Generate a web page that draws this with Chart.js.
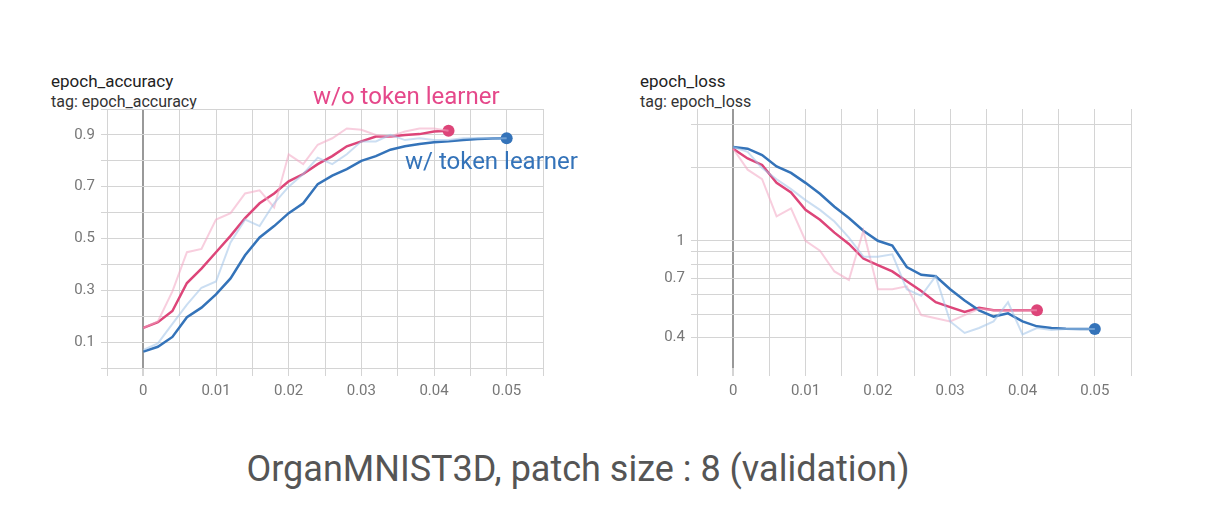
<!DOCTYPE html>
<html>
<head>
<meta charset="utf-8">
<script src="https://cdn.jsdelivr.net/npm/chart.js@4.4.0/dist/chart.umd.min.js"></script>
<style>
  body { margin: 0; width: 1212px; height: 520px; background: #fff; position: relative; font-family: "Roboto", "Noto Sans", sans-serif; overflow: hidden; }
  .box { position: absolute; }
  .title { position: absolute; font-size: 17px; color: #222; }
  .tag { position: absolute; font-size: 16px; color: #333; }
  .note { position: absolute; font-size: 24px; }
  #caption { position: absolute; left: 0; width: 1156px; top: 448px; text-align: center; font-size: 36px; color: #555; }
</style>
</head>
<body>
<div class="title" style="left:51px;top:71px">epoch_accuracy</div>
<div class="tag" style="left:51px;top:92px">tag: epoch_accuracy</div>
<div class="title" style="left:640px;top:71px">epoch_loss</div>
<div class="tag" style="left:640px;top:92px">tag: epoch_loss</div>
<div class="box" style="left:60px;top:94px;width:493px;height:314px"><canvas id="acc"></canvas></div>
<div class="box" style="left:650px;top:94px;width:491px;height:314px"><canvas id="loss"></canvas></div>
<div class="note" style="left:313px;top:82px;color:#e5488a">w/o token learner</div>
<div class="note" style="left:405px;top:147px;color:#3473b9">w/ token learner</div>
<div id="caption">OrganMNIST3D, patch size : 8 (validation)</div>
<script>
// x steps (epochs scaled), 0.002 apart
const stepsWith = [0,0.002,0.004,0.006,0.008,0.010,0.012,0.014,0.016,0.018,0.020,0.022,0.024,0.026,0.028,0.030,0.032,0.034,0.036,0.038,0.040,0.042,0.044,0.046,0.048,0.050];
const stepsWithout = stepsWith.slice(0, 22);

// accuracy
const accWith = [0.063,0.082,0.12,0.196,0.233,0.284,0.346,0.435,0.504,0.548,0.598,0.636,0.71,0.743,0.768,0.8,0.818,0.843,0.856,0.865,0.872,0.875,0.88,0.884,0.886,0.887];
const accWithRaw = [0.07,0.095,0.17,0.245,0.31,0.334,0.485,0.573,0.548,0.636,0.7,0.749,0.812,0.787,0.825,0.875,0.875,0.9,0.88,0.887,0.88,0.88,0.887,0.888,0.886,0.887];
const accWithout = [0.155,0.177,0.22,0.328,0.384,0.447,0.51,0.579,0.636,0.674,0.721,0.749,0.787,0.818,0.856,0.875,0.894,0.894,0.9,0.903,0.913,0.916];
const accWithoutRaw = [0.155,0.18,0.296,0.447,0.46,0.573,0.598,0.674,0.686,0.62,0.825,0.787,0.862,0.887,0.925,0.92,0.9,0.894,0.913,0.925,0.925,0.916];

// loss
const lossWith = [2.43,2.39,2.25,2.02,1.9,1.73,1.56,1.38,1.24,1.1,1.0,0.955,0.78,0.725,0.715,0.632,0.568,0.518,0.488,0.503,0.466,0.445,0.438,0.435,0.434,0.434];
const lossWithRaw = [2.43,2.32,1.99,1.79,1.63,1.47,1.34,1.2,1.03,0.86,0.86,0.88,0.632,0.594,0.715,0.466,0.418,0.438,0.466,0.559,0.412,0.438,0.43,0.434,0.434,0.434];
const lossWithout = [2.39,2.18,2.05,1.73,1.58,1.34,1.22,1.08,0.97,0.845,0.795,0.748,0.682,0.622,0.559,0.534,0.51,0.53,0.518,0.518,0.518,0.518];
const lossWithoutRaw = [2.39,1.96,1.79,1.26,1.36,1.0,0.91,0.748,0.69,1.1,0.632,0.632,0.65,0.495,0.48,0.466,0.495,0.525,0.518,0.518,0.518,0.518];

const xTickLabels = [0, 0.01, 0.02, 0.03, 0.04, 0.05];
const accTickLabels = [0.1, 0.3, 0.5, 0.7, 0.9];
const lossGrid = [0.4,0.5,0.6,0.7,0.8,0.9,1,2,3];
const lossTickLabels = [0.4, 0.7, 1];

const BLUE = '#3473b9', RED = '#dd4579';
const LBLUE = 'rgba(160,195,232,0.55)', LRED = 'rgba(242,165,195,0.55)';
const GRID = '#d4d4d4';

const pts = (xs, ys) => ys.map((y, i) => ({ x: xs[i], y }));
const near = (a, b) => Math.abs(a - b) < 1e-6;

function sets(withS, withRaw, woS, woRaw) {
  const endDot = n => c => c.dataIndex === n - 1 ? 6 : 0;
  return [
    { data: pts(stepsWith, withRaw), borderColor: LBLUE, borderWidth: 2, pointRadius: 0 },
    { data: pts(stepsWithout, woRaw), borderColor: LRED, borderWidth: 2, pointRadius: 0 },
    { data: pts(stepsWith, withS), borderColor: BLUE, backgroundColor: BLUE, borderWidth: 2.5, pointRadius: endDot(stepsWith.length), pointBorderWidth: 0 },
    { data: pts(stepsWithout, woS), borderColor: RED, backgroundColor: RED, borderWidth: 2.5, pointRadius: endDot(stepsWithout.length), pointBorderWidth: 0 }
  ];
}

const xScale = {
  type: 'linear', min: -0.005, max: 0.055,
  afterBuildTicks: s => { s.ticks = []; for (let i = -1; i <= 11; i++) s.ticks.push({ value: i * 0.005 }); },
  afterFit: s => { s.height = 40; },
  ticks: {
    color: '#777', font: { size: 15, family: 'Roboto' }, maxRotation: 0, autoSkip: false, padding: 6,
    callback: v => { const l = xTickLabels.find(t => near(t, v)); return l === undefined ? '' : String(l); }
  },
  grid: {
    color: c => near(c.tick.value, 0) ? '#999' : GRID,
    lineWidth: c => near(c.tick.value, 0) ? 2 : 1,
    tickLength: 8, tickColor: GRID
  },
  border: { display: false }
};

function opts(yScale) {
  return {
    responsive: true, maintainAspectRatio: false, animation: false,
    layout: { padding: { top: 10, right: 10 } },
    plugins: { legend: { display: false }, tooltip: { enabled: false } },
    elements: { line: { tension: 0 } },
    scales: { x: xScale, y: yScale }
  };
}

const yCommon = {
  afterFit: s => { s.width = 47; },
  grid: { color: GRID, tickLength: 6 },
  border: { display: false }
};

new Chart(document.getElementById('acc'), {
  type: 'line',
  data: { datasets: sets(accWith, accWithRaw, accWithout, accWithoutRaw) },
  options: opts(Object.assign({}, yCommon, {
    type: 'linear', min: 0, max: 1,
    afterBuildTicks: s => { s.ticks = []; for (let i = 0; i <= 10; i++) s.ticks.push({ value: i / 10 }); },
    ticks: {
      color: '#777', font: { size: 15, family: 'Roboto' }, padding: 6,
      callback: v => { const l = accTickLabels.find(t => near(t, v)); return l === undefined ? '' : String(l); }
    }
  }))
});

new Chart(document.getElementById('loss'), {
  type: 'line',
  data: { datasets: sets(lossWith, lossWithRaw, lossWithout, lossWithoutRaw) },
  options: opts(Object.assign({}, yCommon, {
    type: 'logarithmic', min: 0.31, max: 3.48,
    afterBuildTicks: s => { s.ticks = lossGrid.map(v => ({ value: v })); },
    ticks: {
      color: '#777', font: { size: 15, family: 'Roboto' }, padding: 6,
      callback: v => { const l = lossTickLabels.find(t => near(t, v)); return l === undefined ? '' : String(l); }
    }
  }))
});
</script>
</body>
</html>
